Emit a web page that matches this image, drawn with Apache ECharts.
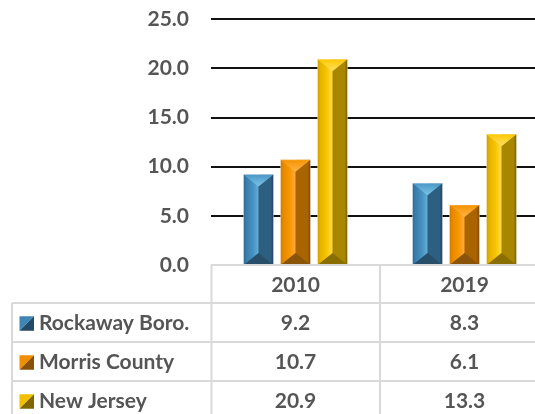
<!DOCTYPE html>
<html>
<head>
<meta charset="utf-8">
<style>
html,body{margin:0;padding:0;background:#fff;}
#c{width:535px;height:414px;}
</style>
<script src="https://cdn.jsdelivr.net/npm/echarts@6/dist/echarts.min.js"></script>
</head>
<body>
<div id="c"></div>
<script>
var categories = ['2010', '2019'];
var seriesNames = ['Rockaway Boro.', 'Morris County', 'New Jersey'];
var rockaway = [9.2, 8.3];
var morris = [10.7, 6.1];
var newJersey = [20.9, 13.3];
var yTicks = [0, 5, 10, 15, 20, 25];

var palettes = [
  {edgeL:'#2f6a96', left:'#3a7dab', lite:'#4690bf', ridge:'#5fa9d5', right:'#2d5f80', edgeR:'#1f4660', top:'#4a97c6', apex:'#7cc3e8', bottom:'#284f69', keyA:'#3f86b6', keyB:'#224a66'},
  {edgeL:'#d07800', left:'#e88a00', lite:'#f69600', ridge:'#ffa733', right:'#a96400', edgeR:'#7d4900', top:'#f49300', apex:'#ffb347', bottom:'#8a5508', keyA:'#f08e00', keyB:'#8a5208'},
  {edgeL:'#cfa000', left:'#e6b300', lite:'#f6c400', ridge:'#ffd93a', right:'#a88600', edgeR:'#7a6100', top:'#fcc800', apex:'#ffe066', bottom:'#8a6f00', keyA:'#f0bf00', keyB:'#7f6700'}
];

var chart = echarts.init(document.getElementById('c'), null, {renderer:'canvas'});
var FONT = 'Lato';
var TXT = '#555555';
var FS = 21;

function makeRender(si) {
  var p = palettes[si];
  return function (params, api) {
    var cat = api.value(0), val = api.value(1);
    var top = api.coord([cat, val]);
    var base = api.coord([cat, 0]);
    var bw = 30, pitch = 37, d = 12;
    var cx = top[0] + (si - 1) * pitch;
    var x0 = cx - bw / 2, x1 = cx + bw / 2, yt = top[1], yb = base[1];
    var front = new echarts.graphic.LinearGradient(0, 0, 1, 0, [
      {offset:0, color:p.edgeL}, {offset:0.1, color:p.left}, {offset:0.3, color:p.lite},
      {offset:0.47, color:p.ridge}, {offset:0.53, color:p.right}, {offset:0.9, color:p.right},
      {offset:1, color:p.edgeR}
    ]);
    var topFill = new echarts.graphic.LinearGradient(0, 0, 0, 1, [
      {offset:0, color:p.top}, {offset:1, color:p.apex}
    ]);
    return {
      type:'group',
      children:[
        {type:'rect', shape:{x:x0, y:yt, width:bw, height:yb - yt}, style:{fill:front}},
        {type:'polygon', shape:{points:[[x0, yt], [x1, yt], [cx, yt + d]]}, style:{fill:topFill}},
        {type:'polygon', shape:{points:[[x0, yb], [x1, yb], [cx, yb - d]]}, style:{fill:p.bottom}},
        {type:'rect', shape:{x:x0, y:yt, width:bw, height:yb - yt}, style:{fill:'none', stroke:'rgba(255,255,255,0.35)', lineWidth:1}}
      ]
    };
  };
}

var seriesData = [rockaway, morris, newJersey];
var series = seriesData.map(function (arr, si) {
  return {
    type:'custom',
    name:seriesNames[si],
    renderItem:makeRender(si),
    data:arr.map(function (v, i) { return [i, v]; }),
    encode:{x:0, y:1},
    z:3
  };
});

chart.setOption({
  animation:false,
  grid:{left:211, top:19, width:338, height:246, outerBoundsMode:'none', containLabel:false},
  xAxis:{type:'category', data:categories, axisLine:{show:false}, axisTick:{show:false}, axisLabel:{show:false}, splitLine:{show:false}},
  yAxis:{type:'value', min:yTicks[0], max:yTicks[yTicks.length - 1], interval:5,
    axisLine:{show:false}, axisTick:{show:false},
    axisLabel:{margin:22, color:TXT, fontFamily:FONT, fontWeight:'bold', fontSize:FS, formatter:function (v) { return v.toFixed(1); }},
    splitLine:{show:true, lineStyle:{color:['#d9d9d9', '#111', '#111', '#111', '#111', '#111'], width:2}}
  },
  series:series
});

// data table
var colX = categories.map(function (c, i) { return chart.convertToPixel({xAxisIndex:0}, i); });
var baseY = chart.convertToPixel({yAxisIndex:0}, 0);
var G = '#d9d9d9';
var rowTops = [baseY, 303, 342, 381, 420];
var leftX = 12, firstCol = 211.5, midCol = 380, rightX = 535;
var els = [];
function line(x1, y1, x2, y2) {
  els.push({type:'line', shape:{x1:x1, y1:y1, x2:x2, y2:y2}, style:{stroke:G, lineWidth:2}, z:10});
}
line(firstCol, rowTops[0], rightX, rowTops[0]);
for (var r = 1; r < 4; r++) line(leftX, rowTops[r], rightX, rowTops[r]);
line(firstCol, rowTops[0], firstCol, 414);
line(midCol, rowTops[0], midCol, 414);
line(leftX, rowTops[1], leftX, 414);
function txt(x, y, s, align) {
  els.push({type:'text', x:x, y:y, style:{text:s, fill:TXT, font:'bold ' + FS + 'px ' + FONT, align:align, verticalAlign:'middle'}, z:11});
}
categories.forEach(function (c, i) { txt(colX[i], (rowTops[0] + rowTops[1]) / 2 + 1, c, 'center'); });
seriesNames.forEach(function (n, si) {
  var cy = (rowTops[si + 1] + rowTops[si + 2]) / 2 + 1;
  var p = palettes[si];
  var kx = 19.5, ks = 14.5, ky = cy - ks / 2;
  els.push({type:'polygon', shape:{points:[[kx, ky], [kx + ks, ky], [kx, ky + ks]]}, style:{fill:p.keyA}, z:11});
  els.push({type:'polygon', shape:{points:[[kx + ks, ky], [kx + ks, ky + ks], [kx, ky + ks]]}, style:{fill:p.keyB}, z:11});
  txt(39, cy, n, 'left');
  seriesData[si].forEach(function (v, i) { txt(colX[i], cy, v.toFixed(1), 'center'); });
});
chart.setOption({graphic:{elements:els}});
</script>
</body>
</html>
